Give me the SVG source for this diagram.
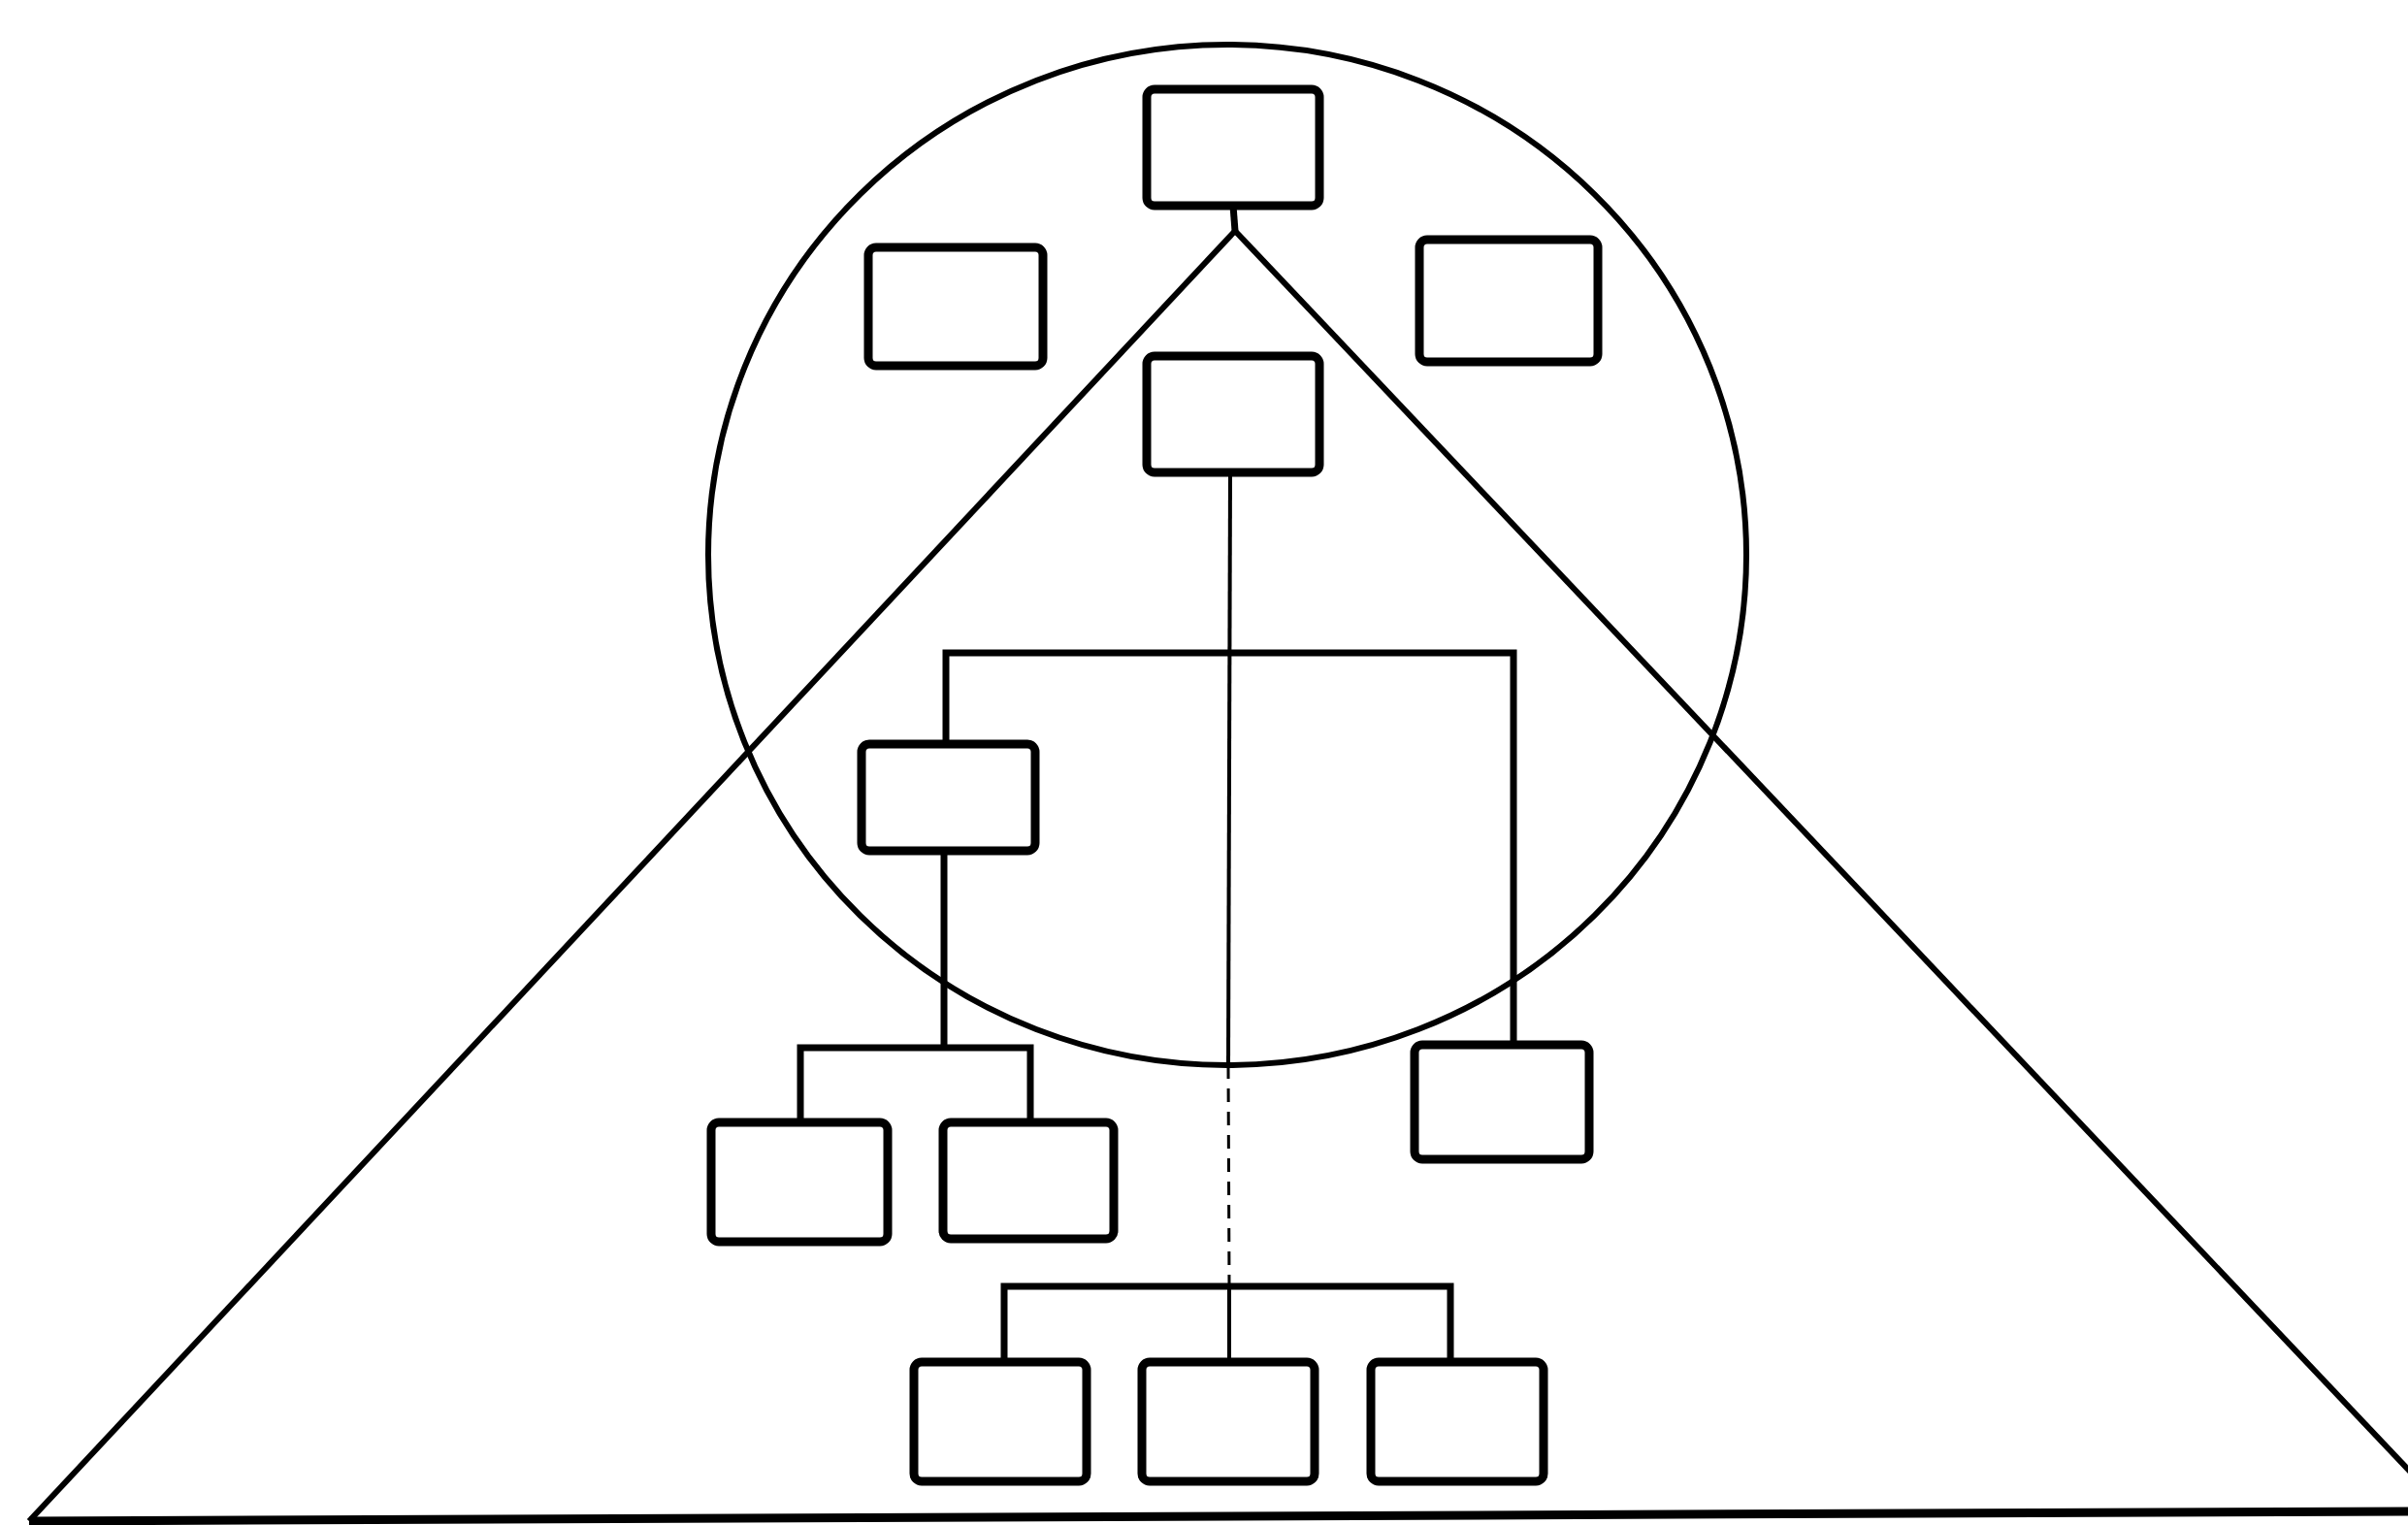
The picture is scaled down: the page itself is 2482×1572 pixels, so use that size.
<svg xmlns="http://www.w3.org/2000/svg" width="2482" height="1572" viewBox="0 0 2482 1572">
<style>
.box{fill:none;stroke:#000;stroke-width:9;stroke-linejoin:round}
.frame{fill:none;stroke:#000;stroke-width:6;stroke-linejoin:miter}
.con{fill:none;stroke:#000;stroke-width:7;stroke-linecap:butt;stroke-linejoin:miter}
.thin{fill:none;stroke:#000;stroke-width:4}
.dash{fill:none;stroke:#000;stroke-width:3;stroke-dasharray:14 10}
</style>
<rect width="2482" height="1572" fill="#fff"/>
<g id="frame">
  <ellipse cx="1265" cy="572" rx="535" ry="526" class="frame"/>
  <line x1="1273" y1="238" x2="30" y2="1568" class="frame"/>
  <line x1="1273" y1="238" x2="2525" y2="1560" class="frame"/>
  <line x1="30" y1="1568" x2="2482" y2="1558" class="frame" style="stroke-width:9"/>
</g>
<g id="connectors">
  <line x1="1271" y1="212" x2="1273" y2="238" class="con"/>
  <line x1="1268" y1="487" x2="1266" y2="1098" class="thin"/>
  <line x1="1266" y1="1098" x2="1267" y2="1326" class="dash"/>
  <line x1="1267" y1="1326" x2="1267" y2="1404" class="thin"/>
  <polyline points="975,767 975,673 1560,673 1560,1077" class="con"/>
  <polyline points="973,877 973,1080" class="con"/>
  <polyline points="825,1157 825,1080 1062,1080 1062,1157" class="con"/>
  <polyline points="1035,1404 1035,1326 1495,1326 1495,1404" class="con"/>
</g>
<g id="n-top"><rect x="1182" y="92" width="178" height="120" rx="8" class="box"/></g>
<g id="n-left"><rect x="895" y="255" width="180" height="122" rx="8" class="box"/></g>
<g id="n-right"><rect x="1463" y="247" width="184" height="126" rx="8" class="box"/></g>
<g id="n-center"><rect x="1182" y="367" width="178" height="120" rx="8" class="box"/></g>
<g id="n-midleft"><rect x="888" y="767" width="179" height="110" rx="8" class="box"/></g>
<g id="n-lowright"><rect x="1458" y="1077" width="180" height="118" rx="8" class="box"/></g>
<g id="n-a"><rect x="733" y="1157" width="182" height="123" rx="8" class="box"/></g>
<g id="n-b"><rect x="972" y="1157" width="176" height="120" rx="8" class="box"/></g>
<g id="n-c"><rect x="942" y="1404" width="178" height="123" rx="8" class="box"/></g>
<g id="n-d"><rect x="1177" y="1404" width="178" height="123" rx="8" class="box"/></g>
<g id="n-e"><rect x="1413" y="1404" width="178" height="123" rx="8" class="box"/></g>
</svg>
